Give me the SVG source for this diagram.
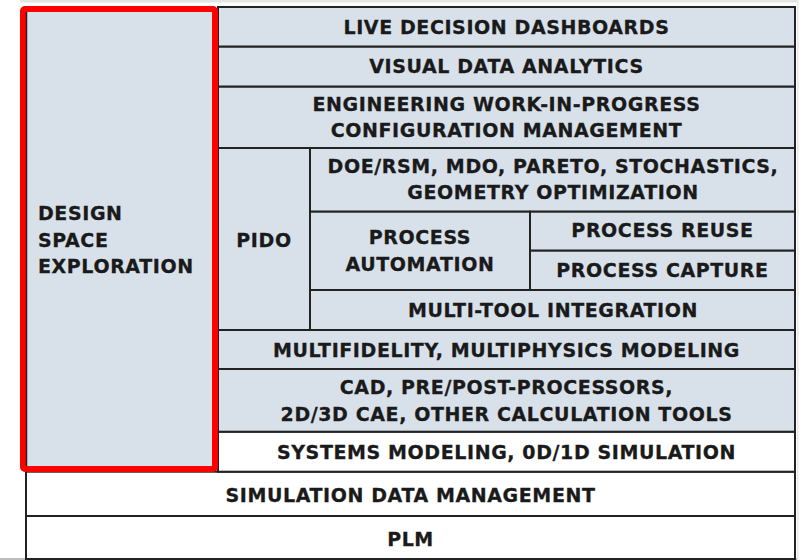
<svg xmlns="http://www.w3.org/2000/svg" width="802" height="560" viewBox="0 0 802 560">
<style>
.t{font-family:"DejaVu Sans","Liberation Sans",sans-serif;font-weight:bold;font-size:19px;letter-spacing:0.6px;fill:#1a1a1a;stroke:#1a1a1a;stroke-width:0.3;text-anchor:middle}
.l{text-anchor:start}
.b{fill:#d8e1ea;stroke:#222;stroke-width:2}
.w{fill:#fff;stroke:#222;stroke-width:2}
</style>
<rect x="0" y="0" width="802" height="560" fill="#fff"/>
<rect x="20" y="0" width="778" height="2.5" fill="#e4e4e4"/>
<rect x="0" y="558" width="798" height="2" fill="#bdbdbd"/>
<rect x="797" y="0" width="1.5" height="560" fill="#e8e8e8"/>
<g id="plm"><rect class="w" x="26" y="516" width="769" height="43"/><text class="t" x="410.5" y="546">PLM</text></g>
<g id="sdm"><rect class="w" x="26" y="471.7" width="769" height="44.3"/><text class="t" x="410.5" y="501.5">SIMULATION DATA MANAGEMENT</text></g>
<g id="systems"><rect class="w" x="218" y="431.7" width="577" height="40"/><text class="t" x="506.5" y="459">SYSTEMS MODELING, 0D/1D SIMULATION</text></g>
<g id="cad"><rect class="b" x="218" y="369" width="577" height="62.7"/><text class="t" x="506.5" y="394">CAD, PRE/POST-PROCESSORS,</text><text class="t" x="506.5" y="420.5">2D/3D CAE, OTHER CALCULATION TOOLS</text></g>
<g id="multifidelity"><rect class="b" x="218" y="330" width="577" height="39"/><text class="t" x="506.5" y="356.5">MULTIFIDELITY, MULTIPHYSICS MODELING</text></g>
<g id="pido"><rect class="b" x="218" y="148" width="92" height="182"/><text class="t" x="264" y="246.5">PIDO</text></g>
<g id="doe"><rect class="b" x="310" y="148" width="485" height="63.7"/><text class="t" x="553" y="172.5">DOE/RSM, MDO, PARETO, STOCHASTICS,</text><text class="t" x="553" y="199">GEOMETRY OPTIMIZATION</text></g>
<g id="automation"><rect class="b" x="310" y="211.7" width="220" height="78.3"/><text class="t" x="420" y="244">PROCESS</text><text class="t" x="420" y="270.5">AUTOMATION</text></g>
<g id="reuse"><rect class="b" x="530" y="211.7" width="265" height="39"/><text class="t" x="662.5" y="236.5">PROCESS REUSE</text></g>
<g id="capture"><rect class="b" x="530" y="250.7" width="265" height="39.3"/><text class="t" x="662.5" y="276.5">PROCESS CAPTURE</text></g>
<g id="integration"><rect class="b" x="310" y="290" width="485" height="40"/><text class="t" x="553" y="316.5">MULTI-TOOL INTEGRATION</text></g>
<g id="engineering"><rect class="b" x="218" y="86.5" width="577" height="61.5"/><text class="t" x="506.5" y="111">ENGINEERING WORK-IN-PROGRESS</text><text class="t" x="506.5" y="136.7">CONFIGURATION MANAGEMENT</text></g>
<g id="visual"><rect class="b" x="218" y="46.5" width="577" height="40"/><text class="t" x="506.5" y="73">VISUAL DATA ANALYTICS</text></g>
<g id="live"><rect class="b" x="218" y="7" width="577" height="39.5"/><text class="t" x="506.5" y="33.5">LIVE DECISION DASHBOARDS</text></g>
<g id="dse"><rect x="23" y="9" width="192" height="460" rx="2" fill="#d8e1ea" stroke="#f00" stroke-width="6"/><line x1="26.5" y1="12" x2="26.5" y2="466" stroke="#222" stroke-width="1.5"/><text class="t l" x="38" y="220">DESIGN</text><text class="t l" x="38" y="246.5">SPACE</text><text class="t l" x="38" y="273">EXPLORATION</text></g>
<g id="connectors"></g>
</svg>
